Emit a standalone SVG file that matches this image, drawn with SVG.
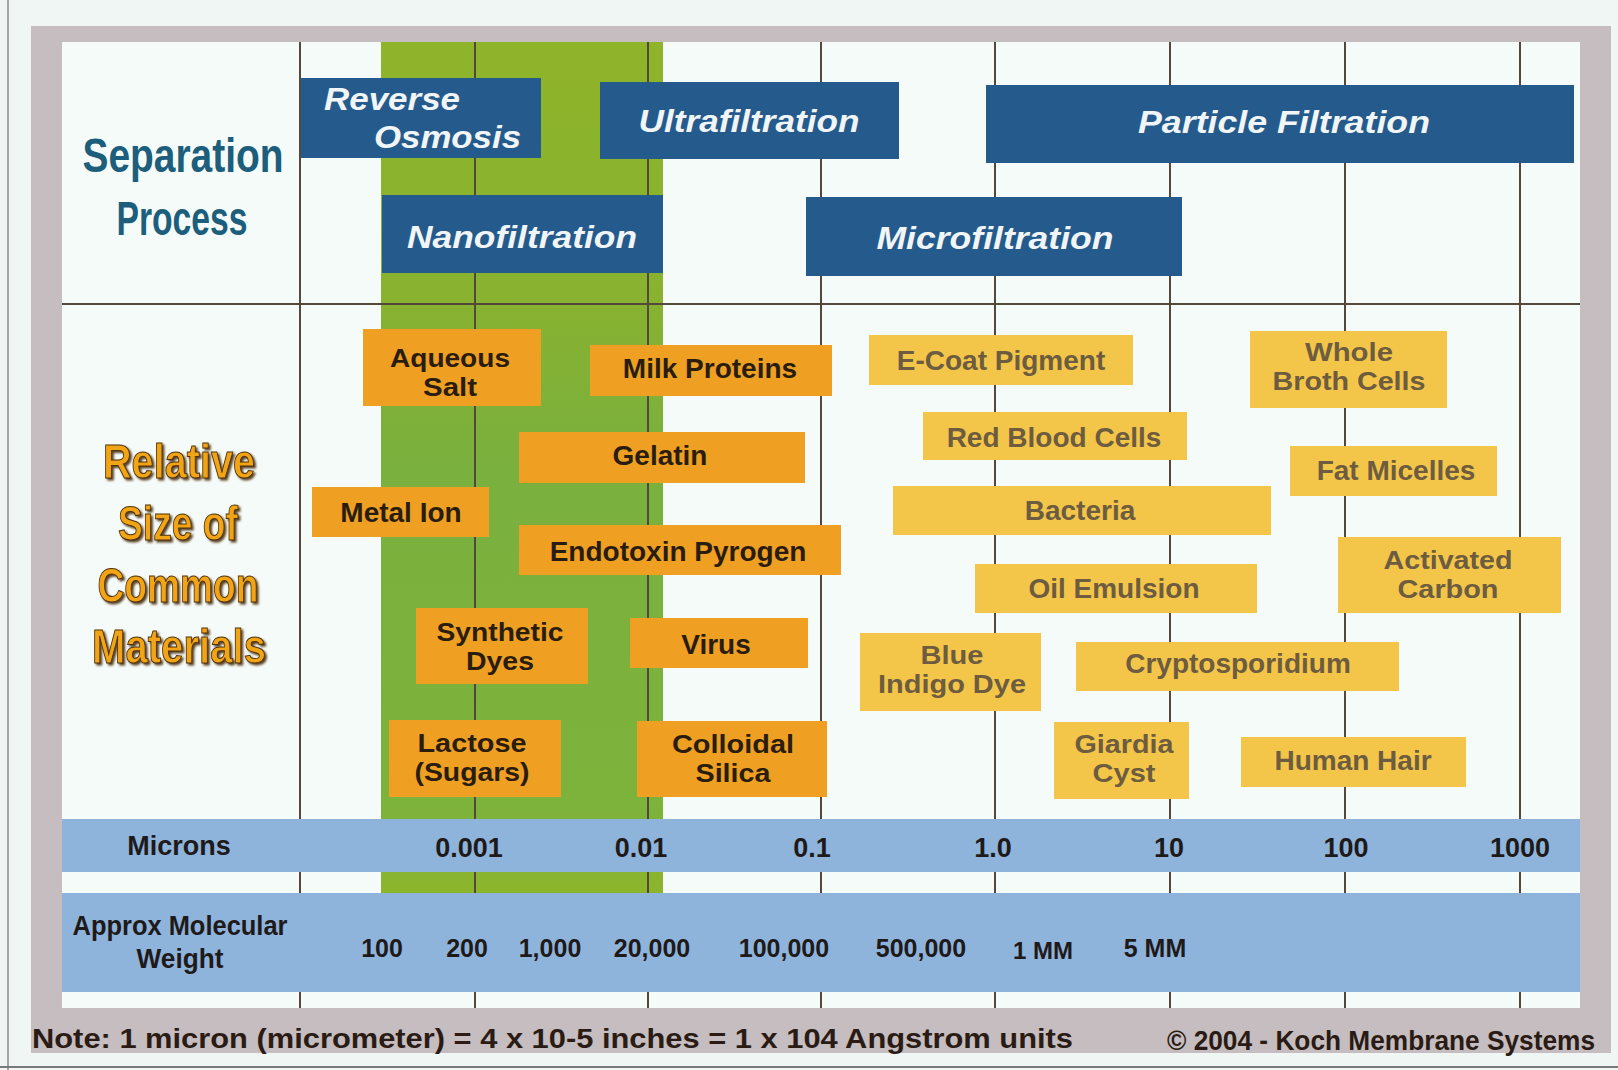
<svg xmlns="http://www.w3.org/2000/svg" width="1618" height="1070" viewBox="0 0 1618 1070">
<defs>
<style>
.proc rect{fill:#245b8c}
.proc text{font-family:"Liberation Sans",Arial,sans-serif;font-weight:bold;font-style:italic;font-size:32px;fill:#f1f5f7}
.mat rect{fill:#efa023}
.mat text{font-family:"Liberation Sans",Arial,sans-serif;font-weight:bold;font-size:28px;fill:#2b1d0d;text-anchor:middle}
.mat2 rect{fill:#f3c64a}
.mat2 text{font-family:"Liberation Sans",Arial,sans-serif;font-weight:bold;font-size:28px;fill:#6d5c3f;text-anchor:middle}
.mat text.two,.mat2 text.two{font-size:25px}
.grid line{stroke:#54473b;stroke-width:2}
.axis text{font-family:"Liberation Sans",Arial,sans-serif;font-weight:bold;fill:#1f1a1a;text-anchor:middle}
.head{font-family:"Liberation Sans",Arial,sans-serif;font-weight:bold;font-size:48px;text-anchor:middle}
</style>
<linearGradient id="gr" x1="0" y1="0" x2="0" y2="1">
<stop offset="0" stop-color="#8fb42a"/>
<stop offset="0.3" stop-color="#88b230"/>
<stop offset="0.5" stop-color="#7ab03e"/>
<stop offset="0.9" stop-color="#7db23b"/>
<stop offset="1" stop-color="#8db52c"/>
</linearGradient>
<filter id="sh" x="-10%" y="-20%" width="130%" height="150%">
<feDropShadow dx="2" dy="2" stdDeviation="0.8" flood-color="#4a2e0a" flood-opacity="0.9"/>
</filter>
</defs>

<rect x="0" y="0" width="1618" height="1070" fill="#eff6f3"/>
<line x1="8" y1="0" x2="8" y2="1070" stroke="#8c8c8c" stroke-width="1.5"/>
<line x1="0" y1="1067" x2="1618" y2="1067" stroke="#7a7a7a" stroke-width="2"/>

<!-- frame -->
<rect x="31" y="26" width="1580" height="1027" fill="#c5bdbf"/>
<rect x="62" y="42" width="1518" height="966" fill="#f5fbf9"/>

<!-- green band -->
<rect x="381" y="42" width="282" height="851" fill="url(#gr)"/>

<!-- connectors / grid lines -->
<g id="grid" class="grid">
<line x1="300" y1="42" x2="300" y2="1008"/>
<line x1="475" y1="42" x2="475" y2="1008"/>
<line x1="648" y1="42" x2="648" y2="1008"/>
<line x1="821" y1="42" x2="821" y2="1008"/>
<line x1="995" y1="42" x2="995" y2="1008"/>
<line x1="1170" y1="42" x2="1170" y2="1008"/>
<line x1="1345" y1="42" x2="1345" y2="1008"/>
<line x1="1520" y1="42" x2="1520" y2="1008"/>
<line x1="62" y1="304" x2="1580" y2="304" stroke-width="3"/>
</g>

<!-- axis bands -->
<g id="microns" class="axis">
<rect x="62" y="819" width="1518" height="53" fill="#8fb4dc"/>
<text x="179" y="855" font-size="27">Microns</text>
<text x="469" y="857" font-size="27">0.001</text>
<text x="641" y="857" font-size="27">0.01</text>
<text x="812" y="857" font-size="27">0.1</text>
<text x="993" y="857" font-size="27">1.0</text>
<text x="1169" y="857" font-size="27">10</text>
<text x="1346" y="857" font-size="27">100</text>
<text x="1520" y="857" font-size="27">1000</text>
</g>
<g id="mw" class="axis">
<rect x="62" y="893" width="1518" height="99" fill="#8fb4dc"/>
<text font-size="27"><tspan x="180" y="935" textLength="215" lengthAdjust="spacingAndGlyphs">Approx Molecular</tspan><tspan x="180" y="968" textLength="87" lengthAdjust="spacingAndGlyphs">Weight</tspan></text>
<text x="382" y="957" font-size="25">100</text>
<text x="467" y="957" font-size="25">200</text>
<text x="550" y="957" font-size="25">1,000</text>
<text x="652" y="957" font-size="25">20,000</text>
<text x="784" y="957" font-size="25">100,000</text>
<text x="921" y="957" font-size="25">500,000</text>
<text x="1043" y="959" font-size="24">1 MM</text>
<text x="1155" y="957" font-size="25">5 MM</text>
</g>

<!-- headings -->
<g id="separation-process">
<text class="head" fill="#1c5e7c"><tspan x="183" y="172" textLength="201" lengthAdjust="spacingAndGlyphs">Separation</tspan><tspan x="182" y="235" textLength="131" lengthAdjust="spacingAndGlyphs">Process</tspan></text>
</g>
<g id="relative-size" filter="url(#sh)">
<text class="head" fill="#f0a414" stroke="#4f310c" stroke-width="1"><tspan x="179" y="478" textLength="152" lengthAdjust="spacingAndGlyphs">Relative</tspan><tspan x="178" y="540" textLength="120" lengthAdjust="spacingAndGlyphs">Size of</tspan><tspan x="178" y="602" textLength="161" lengthAdjust="spacingAndGlyphs">Common</tspan><tspan x="179" y="663" textLength="174" lengthAdjust="spacingAndGlyphs">Materials</tspan></text>
</g>

<!-- process nodes -->
<g id="reverse-osmosis" class="proc">
<rect x="301" y="78" width="240" height="80"/>
<text><tspan x="324" y="110" textLength="136" lengthAdjust="spacingAndGlyphs">Reverse</tspan><tspan x="374" y="148" textLength="147" lengthAdjust="spacingAndGlyphs">Osmosis</tspan></text>
</g>
<g id="ultrafiltration" class="proc">
<rect x="600" y="82" width="299" height="77"/>
<text x="749" y="132" text-anchor="middle" textLength="221" lengthAdjust="spacingAndGlyphs">Ultrafiltration</text>
</g>
<g id="particle-filtration" class="proc">
<rect x="986" y="85" width="588" height="78"/>
<text x="1284" y="133" text-anchor="middle" textLength="292" lengthAdjust="spacingAndGlyphs">Particle Filtration</text>
</g>
<g id="nanofiltration" class="proc">
<rect x="382" y="195" width="281" height="78"/>
<text x="522" y="248" text-anchor="middle" textLength="230" lengthAdjust="spacingAndGlyphs">Nanofiltration</text>
</g>
<g id="microfiltration" class="proc">
<rect x="806" y="197" width="376" height="79"/>
<text x="995" y="249" text-anchor="middle" textLength="237" lengthAdjust="spacingAndGlyphs">Microfiltration</text>
</g>

<!-- material nodes (orange) -->
<g id="aqueous-salt" class="mat"><rect x="363" y="329" width="178" height="77"/><text class="two"><tspan x="450" y="367" textLength="120" lengthAdjust="spacingAndGlyphs">Aqueous</tspan><tspan x="450" y="396" textLength="54" lengthAdjust="spacingAndGlyphs">Salt</tspan></text></g>
<g id="milk-proteins" class="mat"><rect x="590" y="345" width="242" height="51"/><text x="710" y="378">Milk Proteins</text></g>
<g id="gelatin" class="mat"><rect x="519" y="432" width="286" height="51"/><text x="660" y="465">Gelatin</text></g>
<g id="metal-ion" class="mat"><rect x="312" y="487" width="177" height="50"/><text x="401" y="522">Metal Ion</text></g>
<g id="endotoxin-pyrogen" class="mat"><rect x="519" y="525" width="322" height="50"/><text x="678" y="561">Endotoxin Pyrogen</text></g>
<g id="synthetic-dyes" class="mat"><rect x="416" y="608" width="172" height="76"/><text class="two"><tspan x="500" y="641" textLength="127" lengthAdjust="spacingAndGlyphs">Synthetic</tspan><tspan x="500" y="670" textLength="68" lengthAdjust="spacingAndGlyphs">Dyes</tspan></text></g>
<g id="virus" class="mat"><rect x="630" y="618" width="178" height="50"/><text x="716" y="654">Virus</text></g>
<g id="lactose" class="mat"><rect x="389" y="720" width="172" height="77"/><text class="two"><tspan x="472" y="752" textLength="109" lengthAdjust="spacingAndGlyphs">Lactose</tspan><tspan x="472" y="781" textLength="115" lengthAdjust="spacingAndGlyphs">(Sugars)</tspan></text></g>
<g id="colloidal-silica" class="mat"><rect x="637" y="721" width="190" height="76"/><text class="two"><tspan x="733" y="753" textLength="122" lengthAdjust="spacingAndGlyphs">Colloidal</tspan><tspan x="733" y="782" textLength="75" lengthAdjust="spacingAndGlyphs">Silica</tspan></text></g>

<!-- material nodes (yellow) -->
<g id="e-coat-pigment" class="mat2"><rect x="869" y="335" width="264" height="50"/><text x="1001" y="370">E-Coat Pigment</text></g>
<g id="whole-broth-cells" class="mat2"><rect x="1250" y="331" width="197" height="77"/><text class="two"><tspan x="1349" y="361" textLength="88" lengthAdjust="spacingAndGlyphs">Whole</tspan><tspan x="1349" y="390" textLength="153" lengthAdjust="spacingAndGlyphs">Broth Cells</tspan></text></g>
<g id="red-blood-cells" class="mat2"><rect x="923" y="412" width="264" height="48"/><text x="1054" y="447">Red Blood Cells</text></g>
<g id="fat-micelles" class="mat2"><rect x="1290" y="446" width="207" height="50"/><text x="1396" y="480">Fat Micelles</text></g>
<g id="bacteria" class="mat2"><rect x="893" y="486" width="378" height="49"/><text x="1080" y="520">Bacteria</text></g>
<g id="activated-carbon" class="mat2"><rect x="1338" y="537" width="223" height="76"/><text class="two"><tspan x="1448" y="569" textLength="129" lengthAdjust="spacingAndGlyphs">Activated</tspan><tspan x="1448" y="598" textLength="101" lengthAdjust="spacingAndGlyphs">Carbon</tspan></text></g>
<g id="oil-emulsion" class="mat2"><rect x="975" y="564" width="282" height="49"/><text x="1114" y="598">Oil Emulsion</text></g>
<g id="blue-indigo-dye" class="mat2"><rect x="860" y="633" width="181" height="78"/><text class="two"><tspan x="952" y="664" textLength="63" lengthAdjust="spacingAndGlyphs">Blue</tspan><tspan x="952" y="693" textLength="148" lengthAdjust="spacingAndGlyphs">Indigo Dye</tspan></text></g>
<g id="cryptosporidium" class="mat2"><rect x="1076" y="642" width="323" height="49"/><text x="1238" y="673">Cryptosporidium</text></g>
<g id="giardia-cyst" class="mat2"><rect x="1054" y="722" width="135" height="77"/><text class="two"><tspan x="1124" y="753" textLength="99" lengthAdjust="spacingAndGlyphs">Giardia</tspan><tspan x="1124" y="782" textLength="63" lengthAdjust="spacingAndGlyphs">Cyst</tspan></text></g>
<g id="human-hair" class="mat2"><rect x="1241" y="737" width="225" height="50"/><text x="1353" y="770">Human Hair</text></g>

<!-- footer -->
<g id="footer">
<text x="32" y="1048" font-family="Liberation Sans, Arial, sans-serif" font-weight="bold" font-size="28" fill="#2a1c14" textLength="1041" lengthAdjust="spacingAndGlyphs">Note: 1 micron (micrometer) = 4 x 10-5 inches = 1 x 104 Angstrom units</text>
<text x="1167" y="1050" font-family="Liberation Sans, Arial, sans-serif" font-weight="bold" font-size="27" fill="#2a1c14" textLength="428" lengthAdjust="spacingAndGlyphs">© 2004 - Koch Membrane Systems</text>
</g>
</svg>
